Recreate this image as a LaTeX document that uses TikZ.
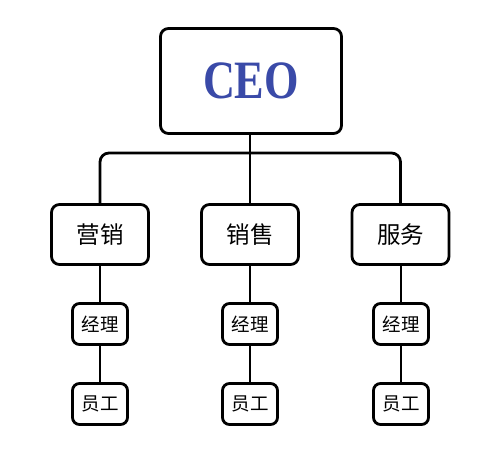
\documentclass[tikz,border=0pt]{standalone}
\usepackage{fontspec}
\newfontfamily\cjk{Noto Sans CJK SC}
\newfontfamily\ceofont[FakeStretch=0.82]{Liberation Serif}
\definecolor{ceoblue}{RGB}{58,74,168}
\begin{document}
\begin{tikzpicture}[x=1pt,y=-1pt,
  box/.style={draw=black, line width=2.8pt, fill=white, inner sep=0pt, rounded corners=8pt},
  ceobox/.style={box, minimum width=181pt, minimum height=105pt},
  deptbox/.style={box, minimum width=97pt, minimum height=60pt, font=\cjk\fontsize{23.5}{27}\selectfont},
  smallbox/.style={box, rounded corners=7pt, minimum width=55pt, minimum height=41pt, font=\cjk\fontsize{18.5}{22}\selectfont},
  link/.style={draw=black, line width=2.8pt}]
\useasboundingbox (0,0) rectangle (500,465);
\node[ceobox] (ceo) at (251,81) {\textcolor{ceoblue}{\ceofont\bfseries\fontsize{54}{60}\selectfont CEO}};
\node[deptbox] (mk) at (100,234.5) {营销};
\node[deptbox] (xs) at (250,234.5) {销售};
\node[deptbox] (fw) at (400.5,234.5) {服务};
\node[smallbox] (m1) at (100,324) {经理};
\node[smallbox] (m2) at (250,324) {经理};
\node[smallbox] (m3) at (401,324) {经理};
\node[smallbox] (s1) at (100,404) {员工};
\node[smallbox] (s2) at (250,404) {员工};
\node[smallbox] (s3) at (401,404) {员工};
\coordinate (bar) at (250,153);
\draw[link, rounded corners=9pt] (mk.north) |- (bar) -| (fw.north);
\draw[link] (ceo.south -| xs.north) -- (xs.north);
\draw[link] (mk.south) -- (m1.north);
\draw[link] (xs.south) -- (m2.north);
\draw[link] (fw.south -| m3.north) -- (m3.north);
\draw[link] (m1.south) -- (s1.north);
\draw[link] (m2.south) -- (s2.north);
\draw[link] (m3.south) -- (s3.north);
\end{tikzpicture}
\end{document}
